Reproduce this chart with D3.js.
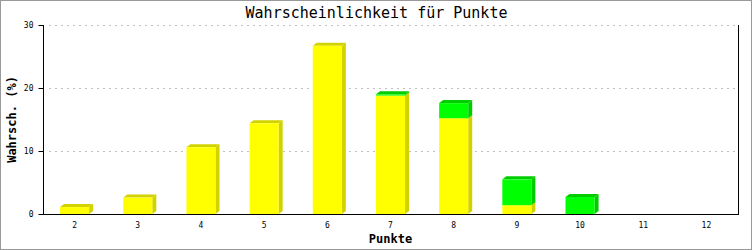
<!DOCTYPE html>
<html>
<head>
<meta charset="utf-8">
<script src="https://cdn.jsdelivr.net/npm/d3@7"></script>
<style>
  body { margin: 0; background: #fff; }
  text { font-family: "DejaVu Sans Mono", "Liberation Mono", monospace; }
</style>
</head>
<body>
<div class="chart"></div>
<script>
var w = 753, h = 250;
var margin = { top: 25, right: 15, bottom: 36, left: 43 };

// data
var punkte = ['2', '3', '4', '5', '6', '7', '8', '9', '10', '11', '12'];
var gelb = [1.1, 2.6, 10.6, 14.4, 26.7, 18.8, 15.2, 1.4, 0, 0, 0];
var gruen = [0, 0, 0, 0, 0, 0.2, 2.4, 4.1, 2.7, 0, 0];
var yTicks = [0, 10, 20, 30];

var series = [
	{ name: 'gelb', values: gelb, front: '#ffff00', dark: '#d2d200' },
	{ name: 'gruen', values: gruen, front: '#00ff00', dark: '#00cc00' }
];

var dx = 4, dy = 3; // depth of the 3d bars

var svg = d3.select('.chart').append('svg')
			.attr('width', w)
			.attr('height', h)
			.style('display', 'block');

svg.append('rect')
	.attr('x', 0.5).attr('y', 0.5)
	.attr('width', w - 2).attr('height', h - 1)
	.attr('fill', '#fff')
	.attr('stroke', '#999');

var xScale = d3.scaleBand()
			.domain(punkte)
			.range([margin.left, w - margin.right])
			.paddingInner(0.54)
			.paddingOuter(0.27);

var yScale = d3.scaleLinear()
			.domain([0, 30])
			.range([h - margin.bottom, margin.top]);

// dotted grid
svg.append('g')
	.selectAll('line')
	.data(yTicks.slice(1))
	.enter()
	.append('line')
		.attr('x1', margin.left + 6)
		.attr('x2', w - margin.right)
		.attr('y1', function(d) { return Math.round(yScale(d)) + 0.5; })
		.attr('y2', function(d) { return Math.round(yScale(d)) + 0.5; })
		.attr('stroke', '#c0c0c0')
		.attr('stroke-dasharray', '2,4');

// stacked 3d bars
var stacked = d3.stack()
			.keys([0, 1])
			.value(function(d, k) { return series[k].values[d]; })(d3.range(punkte.length));

stacked.forEach(function(layer, k) {
	var s = series[k];
	var g = svg.append('g');
	layer.forEach(function(seg, i) {
		if (seg[1] - seg[0] <= 0) return;
		var x0 = xScale(punkte[i]),
			x1 = x0 + xScale.bandwidth(),
			yb = yScale(seg[0]),
			yt = yScale(seg[1]);
		g.append('polygon')
			.attr('points', [[x1, yt], [x1 + dx, yt - dy], [x1 + dx, yb - dy], [x1, yb]].join(' '))
			.attr('fill', s.dark);
		var topOfStack = (k === 1) || series[1].values[i] === 0;
		if (topOfStack) {
			g.append('polygon')
				.attr('points', [[x0, yt], [x0 + dx, yt - dy], [x1 + dx, yt - dy], [x1, yt]].join(' '))
				.attr('fill', s.dark);
		}
		g.append('rect')
			.attr('x', x0)
			.attr('y', yt)
			.attr('width', xScale.bandwidth())
			.attr('height', yb - yt)
			.attr('fill', s.front);
	});
});

// axes
var yAxis = d3.axisLeft(yScale)
			.tickValues(yTicks)
			.tickSize(5)
			.tickPadding(5);

svg.append('g')
	.attr('transform', 'translate(' + (margin.left + 0.5) + ',0)')
	.call(yAxis)
	.call(function(g) {
		g.select('.domain').attr('d', 'M0,' + margin.top + 'V' + (h - margin.bottom));
		g.selectAll('text').attr('font-size', 8).attr('font-family', '"DejaVu Sans Mono", monospace');
	});

svg.append('line')
	.attr('x1', w - margin.right + 0.5).attr('x2', w - margin.right + 0.5)
	.attr('y1', margin.top).attr('y2', h - margin.bottom)
	.attr('stroke', '#000');

var xAxis = d3.axisBottom(xScale)
			.tickSize(0)
			.tickPadding(8);

svg.append('g')
	.attr('transform', 'translate(0,' + (h - margin.bottom + 0.5) + ')')
	.call(xAxis)
	.call(function(g) {
		g.select('.domain').attr('d', 'M' + margin.left + ',0H' + (w - margin.right + 1));
		g.selectAll('text').attr('font-size', 8).attr('font-family', '"DejaVu Sans Mono", monospace');
	});

// titles
svg.append('text')
	.attr('x', w / 2)
	.attr('y', 18)
	.attr('text-anchor', 'middle')
	.attr('font-size', 15)
	.text('Wahrscheinlichkeit für Punkte');

svg.append('text')
	.attr('transform', 'translate(16,' + ((margin.top + h - margin.bottom) / 2) + ') rotate(-90)')
	.attr('text-anchor', 'middle')
	.attr('font-size', 12)
	.attr('font-weight', 'bold')
	.text('Wahrsch. (%)');

svg.append('text')
	.attr('x', (margin.left + w - margin.right) / 2)
	.attr('y', 243)
	.attr('text-anchor', 'middle')
	.attr('font-size', 12)
	.attr('font-weight', 'bold')
	.text('Punkte');
</script>
</body>
</html>
